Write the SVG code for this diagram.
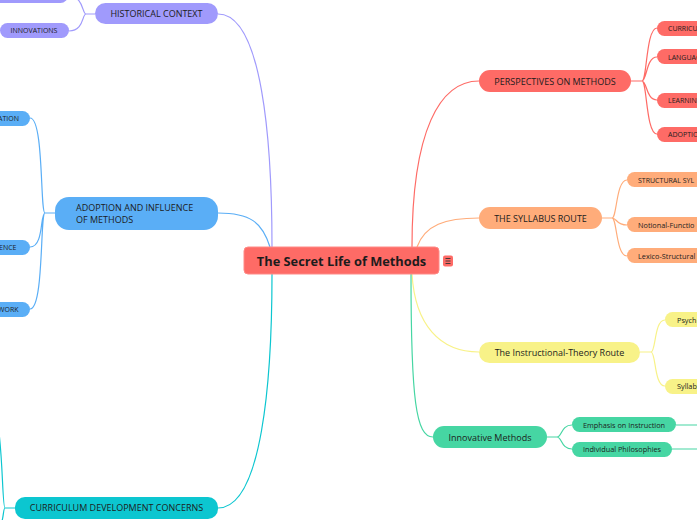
<svg xmlns="http://www.w3.org/2000/svg" width="697" height="520" viewBox="0 0 697 520">
<style>
text{font-family:"Open Sans","Noto Sans","DejaVu Sans",sans-serif;fill:#1c1c1c}
.c{stroke-width:1.2;fill:none}
.t9{font-size:9px}
.t7{font-size:7.3px}
.t6{font-size:7px}
.pu{fill:#a09afc}.bl{fill:#5aaef6}.te{fill:#0cc6d0}.re{fill:#fe6b66}.or{fill:#ffac7a}.ye{fill:#f8f288}.gr{fill:#46d6a3}
.spu{stroke:#a09afc}.sbl{stroke:#5aaef6}.ste{stroke:#0cc6d0}.sre{stroke:#fe6b66}.sor{stroke:#ffac7a}.sye{stroke:#f8f288}.sgr{stroke:#46d6a3}
</style>
<rect width="697" height="520" fill="#ffffff"/>
<g id="connectors">
<path class="c spu" d="M272,247 C272,140 262,14 218,14"/>
<path class="c sbl" d="M270,247 C262,222 250,213 218,213"/>
<path class="c ste" d="M272,274 C272,380 262,508 218,508"/>
<path class="c sre" d="M412,247 C412,130 440,81 479,81"/>
<path class="c sor" d="M417,247 C425,225 445,218 479,218"/>
<path class="c sye" d="M412,274 C415,325 440,352 479,352"/>
<path class="c sgr" d="M411,274 C411,400 416,437 433,437"/>
<path class="c spu" d="M95,14 L86,14 M86,14 C82,14 84,-4 68,-4 M86,14 C82,14 84,31 69,31"/>
<path class="c sbl" d="M55,213 L45,213 M45,213 C40,213 44,118 30,118 M45,213 C40,213 44,247 30,247 M45,213 C40,213 44,309 30,309"/>
<path class="c ste" d="M15,508 L5,508 M5,508 C2,508 3,440 -4,415 M5,508 C3,508 4,520 0,526"/>
<path class="c sre" d="M631,81 L642,81 M642,81 C647,81 646,28 657,28 M642,81 C647,81 646,57 657,57 M642,81 C647,81 646,100 657,100 M642,81 C647,81 646,134 657,134"/>
<path class="c sor" d="M602,218 L612,218 M612,218 C617,218 616,180 627,180 M612,218 C617,218 616,225 627,225 M612,218 C617,218 616,256 627,256"/>
<path class="c sye" d="M640,352 L651,352 M651,352 C656,352 654,320 665,320 M651,352 C656,352 654,386 665,386"/>
<path class="c sgr" d="M547,437 L557,437 M557,437 C562,437 561,425 572,425 M557,437 C562,437 561,449 572,449 M676,425 L697,425 M672,449 L697,449"/>
</g>
<g id="central">
<rect x="244" y="247" width="195" height="27" rx="4" class="re" stroke="#ff8a86" stroke-width="1"/>
<text x="341.5" y="265.5" text-anchor="middle" font-size="12.8" font-weight="bold">The Secret Life of Methods</text>
</g>
<g id="central-icon">
<rect x="443" y="255.5" width="10" height="11" rx="2" class="re"/>
<path d="M445.5,258.5 H450.5 M445.5,261 H450.5 M445.5,263.5 H450.5" stroke="#333" stroke-width="0.9"/>
</g>
<g id="historical">
<rect x="95" y="3" width="123" height="21" rx="10.5" class="pu"/>
<text x="156.5" y="17" text-anchor="middle" class="t9">HISTORICAL CONTEXT</text>
</g>
<g id="hist-child-1"><rect x="-60" y="-12" width="128" height="15" rx="7.5" class="pu"/></g>
<g id="innovations">
<rect x="0" y="23" width="69" height="15" rx="7.5" class="pu"/>
<text x="34" y="33" text-anchor="middle" class="t6">INNOVATIONS</text>
</g>
<g id="adoption">
<rect x="55" y="197" width="163" height="33" rx="14" class="bl"/>
<text x="76" y="211" class="t9">ADOPTION AND INFLUENCE</text>
<text x="76" y="222.5" class="t9">OF METHODS</text>
</g>
<g id="adopt-child-1"><rect x="-80" y="111" width="110" height="15" rx="7.5" class="bl"/><text x="19" y="121" text-anchor="end" class="t6">ATION</text></g>
<g id="adopt-child-2"><rect x="-80" y="240" width="110" height="15" rx="7.5" class="bl"/><text x="16.5" y="250" text-anchor="end" class="t6">ENCE</text></g>
<g id="adopt-child-3"><rect x="-80" y="302" width="110" height="15" rx="7.5" class="bl"/><text x="18.5" y="312" text-anchor="end" class="t6">WORK</text></g>
<g id="curriculum">
<rect x="15" y="497" width="203" height="22" rx="10" class="te"/>
<text x="116.5" y="511" text-anchor="middle" class="t9">CURRICULUM DEVELOPMENT CONCERNS</text>
</g>
<g id="perspectives">
<rect x="479" y="70" width="152" height="22" rx="11" class="re"/>
<text x="555" y="84.5" text-anchor="middle" class="t9">PERSPECTIVES ON METHODS</text>
</g>
<g id="persp-1"><rect x="657" y="21" width="60" height="15" rx="7.5" class="re"/><text x="668" y="31" class="t6">CURRICU</text></g>
<g id="persp-2"><rect x="657" y="49" width="60" height="15" rx="7.5" class="re"/><text x="668" y="59.5" class="t6">LANGUAG</text></g>
<g id="persp-3"><rect x="657" y="93" width="60" height="15" rx="7.5" class="re"/><text x="668" y="103" class="t6">LEARNIN</text></g>
<g id="persp-4"><rect x="657" y="127" width="60" height="15" rx="7.5" class="re"/><text x="668" y="137" class="t6">ADOPTIO</text></g>
<g id="syllabus">
<rect x="479" y="207" width="123" height="22" rx="11" class="or"/>
<text x="540.5" y="221.5" text-anchor="middle" class="t9">THE SYLLABUS ROUTE</text>
</g>
<g id="syl-1"><rect x="627" y="172" width="90" height="15" rx="7.5" class="or"/><text x="638" y="182.5" class="t6">STRUCTURAL SYL</text></g>
<g id="syl-2"><rect x="627" y="217" width="90" height="15" rx="7.5" class="or"/><text x="638" y="227.5" class="t7">Notional-Functio</text></g>
<g id="syl-3"><rect x="627" y="248" width="90" height="15" rx="7.5" class="or"/><text x="638" y="258.5" class="t7">Lexico-Structural</text></g>
<g id="instructional">
<rect x="479" y="342" width="161" height="21" rx="10.5" class="ye"/>
<text x="559.5" y="356" text-anchor="middle" class="t9">The Instructional-Theory Route</text>
</g>
<g id="ins-1"><rect x="665" y="312" width="50" height="15" rx="7.5" class="ye"/><text x="677" y="322.5" class="t7">Psych</text></g>
<g id="ins-2"><rect x="665" y="379" width="50" height="15" rx="7.5" class="ye"/><text x="677" y="389" class="t7">Syllab</text></g>
<g id="innovative">
<rect x="433" y="426" width="114" height="22" rx="11" class="gr"/>
<text x="490" y="440.5" text-anchor="middle" class="t9">Innovative Methods</text>
</g>
<g id="emphasis"><rect x="572" y="417" width="104" height="15" rx="7.5" class="gr"/><text x="624" y="427.5" text-anchor="middle" class="t7">Emphasis on Instruction</text></g>
<g id="individual"><rect x="572" y="442" width="100" height="15" rx="7.5" class="gr"/><text x="622" y="452" text-anchor="middle" class="t7">Individual Philosophies</text></g>
</svg>
